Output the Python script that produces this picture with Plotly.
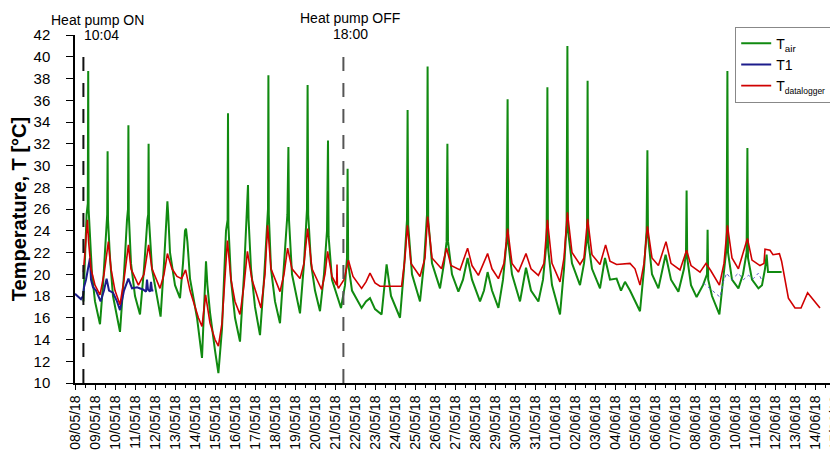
import pandas as pd
import plotly.graph_objects as go

BASE = pd.Timestamp("2018-05-08")

# T_air (green) - days after 08/05/18 00:00, values in degC
tair_days = [0.42, 0.50, 0.58, 0.64, 0.66, 0.68, 0.75, 0.85, 1.00, 1.25, 1.40, 1.55, 1.61, 1.63, 1.65,
             1.75, 1.90, 2.25, 2.45, 2.60, 2.65, 2.67, 2.69, 2.80, 3.00, 3.25, 3.45, 3.62, 3.66, 3.68,
             3.70, 3.85, 4.28, 4.45, 4.58, 4.62, 4.66, 4.75, 5.00, 5.25, 5.40, 5.50, 5.55, 5.62, 5.75,
             6.10, 6.35, 6.48, 6.55, 6.62, 6.75, 7.00, 7.17, 7.35, 7.55, 7.63, 7.65, 7.67, 7.80, 8.00,
             8.25, 8.45, 8.60, 8.65, 8.68, 8.80, 9.00, 9.25, 9.45, 9.60, 9.65, 9.67, 9.69, 9.80, 10.00,
             10.25, 10.45, 10.62, 10.67, 10.70, 10.85, 11.25, 11.45, 11.60, 11.63, 11.66, 11.80, 12.00,
             12.25, 12.45, 12.60, 12.65, 12.68, 12.85, 13.30, 13.50, 13.60, 13.63, 13.66, 13.85, 14.33,
             14.55, 14.75, 15.00, 15.33, 15.58, 15.80, 16.25, 16.45, 16.60, 16.63, 16.66, 16.85, 17.25,
             17.45, 17.60, 17.63, 17.66, 17.85, 18.25, 18.45, 18.58, 18.62, 18.65, 18.85, 19.17, 19.40,
             19.63, 19.85, 20.25, 20.45, 20.63, 20.85, 21.17, 21.40, 21.58, 21.63, 21.66, 21.85, 22.25,
             22.55, 22.80, 23.17, 23.40, 23.58, 23.62, 23.65, 23.85, 24.25, 24.45, 24.58, 24.62, 24.65,
             24.85, 25.25, 25.45, 25.60, 25.63, 25.66, 25.85, 26.25, 26.50, 26.75, 27.08, 27.30, 27.50,
             27.75, 28.00, 28.25, 28.45, 28.58, 28.62, 28.65, 28.85, 29.17, 29.53, 29.80, 30.17, 30.45,
             30.55, 30.58, 30.61, 30.80, 31.08, 31.40, 31.60, 31.63, 31.66, 31.85, 32.22, 32.42, 32.58,
             32.62, 32.65, 32.85, 33.17, 33.40, 33.58, 33.62, 33.65, 33.85, 34.17, 34.35, 34.50, 34.58,
             34.65, 35.33]
tair_vals = [17.5, 22.0, 25.5, 26.5, 38.7, 26.0, 23.5, 20.0, 17.5, 15.4, 19.0, 24.5, 25.5, 31.3, 25.0,
             21.5, 18.0, 14.7, 20.0, 25.0, 26.0, 33.7, 25.5, 21.0, 18.0, 16.3, 20.5, 25.0, 25.5, 32.0,
             25.0, 20.5, 16.1, 21.0, 26.0, 26.7, 25.5, 22.0, 19.0, 17.8, 21.0, 24.0, 24.2, 23.0, 19.6,
             16.0, 12.3, 18.0, 21.2, 19.0, 16.5, 13.0, 10.9, 15.0, 24.0, 25.0, 34.8, 24.5, 19.5, 16.0,
             13.8, 20.0, 25.5, 28.2, 25.0, 20.5, 17.0, 14.4, 19.5, 25.0, 26.0, 38.3, 25.5, 20.5, 17.5,
             15.5, 20.5, 25.5, 31.7, 25.0, 20.0, 16.4, 21.0, 26.0, 37.4, 25.5, 21.0, 18.5,
             16.6, 20.0, 24.0, 32.3, 23.5, 19.5, 16.9, 19.0, 21.5, 29.7, 21.0, 18.5, 16.9,
             17.5, 17.8, 16.8, 16.3, 20.9, 18.0, 16.0, 20.5, 25.0, 35.1, 24.5, 20.0, 17.5,
             21.0, 25.5, 39.1, 25.0, 21.0, 18.7, 21.0, 23.0, 32.0, 23.0, 20.0, 18.4, 19.5,
             21.5, 19.5, 17.5, 18.5, 20.2, 18.5, 16.9, 19.5, 23.0, 36.1, 23.0, 20.0, 17.5,
             20.6, 18.5, 17.5, 19.5, 23.0, 37.2, 22.5, 19.0, 16.3, 20.5, 24.5, 41.0, 24.0,
             21.0, 19.0, 21.0, 23.5, 37.8, 23.0, 20.5, 18.7, 21.5, 19.5, 19.6, 18.5, 19.3,
             18.5, 17.5, 16.6, 20.5, 24.0, 31.4, 23.5, 20.0, 18.7, 21.8, 19.5, 18.4, 20.5,
             22.0, 27.7, 21.5, 19.0, 17.9, 19.0, 20.0, 24.1, 19.5, 18.0, 16.3, 20.0, 22.5,
             38.7, 22.0, 19.5, 18.7, 20.0, 22.0, 31.6, 21.5, 19.5, 18.7, 19.0, 20.5, 21.8,
             20.2, 20.2]

# T1 (blue) - first sensor period, then a faint second period in June
t1_days = [0.00, 0.15, 0.30, 0.40, 0.45, 0.55, 0.65, 0.75, 0.80, 0.90, 1.05, 1.28, 1.45, 1.58, 1.70,
           1.90, 2.10, 2.25, 2.45, 2.67, 2.85, 3.10, 3.40, 3.55, 3.60, 3.65, 3.75, 3.80, 3.85, 3.92]
t1_vals = [18.2, 17.9, 17.7, 18.0, 18.8, 19.5, 20.5, 21.5, 19.5, 18.8, 18.5, 17.5, 18.5, 19.6, 18.5,
           18.3, 17.5, 16.7, 18.5, 19.6, 18.7, 18.8, 18.6, 18.4, 19.5, 18.6, 18.4, 19.3, 18.5, 18.5]
t1b_days = [31.42, 31.80, 32.25, 32.42, 32.58, 32.83, 33.17, 33.42, 33.67, 33.92, 34.17, 34.33]
t1b_vals = [19.2, 18.6, 17.9, 19.3, 20.1, 19.5, 20.1, 19.5, 19.9, 19.6, 20.1, 19.5]

# T_datalogger (red)
tlog_days = [0.42, 0.55, 0.62, 0.68, 0.80, 1.00, 1.25, 1.45, 1.67, 1.80, 2.00, 2.25, 2.45, 2.67, 2.80,
             3.17, 3.45, 3.68, 3.85, 4.25, 4.45, 4.62, 4.85, 5.10, 5.33, 5.53, 5.75, 6.17, 6.35, 6.53,
             6.75, 7.00, 7.17, 7.35, 7.62, 7.80, 8.00, 8.25, 8.45, 8.62, 8.85, 9.30, 9.50, 9.63, 9.80,
             10.25, 10.45, 10.63, 10.85, 11.25, 11.45, 11.63, 11.85, 12.33, 12.50, 12.63, 12.85, 13.08,
             13.10, 13.12, 13.17, 13.45, 13.67, 13.90, 14.33, 14.55, 14.75, 15.00, 15.25, 16.33, 16.50,
             16.62, 16.80, 17.25, 17.50, 17.63, 17.85, 18.33, 18.58, 18.80, 19.25, 19.63, 19.85, 20.17,
             20.63, 20.85, 21.17, 21.45, 21.63, 21.85, 22.17, 22.55, 22.80, 23.17, 23.45, 23.62, 23.85,
             24.25, 24.45, 24.62, 24.85, 25.25, 25.45, 25.63, 25.85, 26.25, 26.53, 26.75, 27.08, 27.75,
             28.00, 28.25, 28.45, 28.62, 28.85, 29.17, 29.55, 29.80, 30.25, 30.58, 30.80, 31.25, 31.55,
             31.80, 32.22, 32.45, 32.62, 32.85, 33.17, 33.62, 33.85, 34.25, 34.45, 34.50, 34.75, 34.90,
             35.22, 35.33, 35.67, 36.00, 36.30, 36.63, 37.25]
tlog_vals = [20.2, 23.5, 25.0, 23.0, 20.5, 19.0, 18.1, 20.0, 23.0, 20.5, 18.5, 17.2, 19.5, 22.7, 20.5,
             19.0, 20.0, 22.7, 20.5, 18.7, 20.0, 21.9, 20.5, 19.8, 19.6, 20.4, 18.5, 16.0, 15.2, 18.1,
             15.5, 14.0, 13.4, 15.5, 23.1, 19.5, 17.5, 16.3, 19.0, 22.1, 19.5, 16.9, 20.0, 24.5, 20.5,
             18.4, 20.0, 22.4, 20.5, 19.6, 21.0, 24.2, 20.5, 18.6, 20.0, 22.1, 19.8, 19.0,
             20.9, 19.0, 18.7, 19.5, 21.3, 19.8, 18.7, 19.3, 20.1, 19.2, 18.9, 18.9, 21.5,
             24.5, 21.0, 19.8, 21.5, 25.3, 21.5, 20.5, 22.4, 20.8, 20.4, 22.4, 20.8, 19.9,
             21.9, 20.5, 19.6, 21.0, 24.2, 21.0, 20.2, 21.9, 20.5, 19.9, 21.0, 25.0, 21.0,
             19.3, 21.5, 25.7, 22.0, 20.9, 21.5, 25.1, 21.8, 20.9, 22.7, 21.2, 20.9, 21.0,
             20.5, 19.0, 21.0, 24.4, 21.5, 20.8, 23.0, 21.0, 20.4, 22.2, 20.8, 20.2, 21.0,
             20.3, 19.0, 21.0, 24.5, 21.5, 20.5, 23.3, 21.3, 20.8, 21.0, 22.3, 22.2, 21.8,
             21.9, 21.2, 17.8, 16.9, 16.9, 18.3, 16.9]

# heat pump events (as they sit on the time axis)
pump_on = 0.42
pump_off = 13.42


def to_time(days):
    return BASE + pd.to_timedelta(days, unit="D")


FONT = "Liberation Sans, Arial, sans-serif"

fig = go.Figure()
fig.add_trace(go.Scatter(x=to_time(tair_days), y=tair_vals, mode="lines", name="T<sub>air</sub>",
                         line=dict(color="#108a10", width=2)))
fig.add_trace(go.Scatter(x=to_time(t1_days), y=t1_vals, mode="lines", name="T1", legendgroup="t1",
                         line=dict(color="#1c1c8c", width=2)))
fig.add_trace(go.Scatter(x=to_time(t1b_days), y=t1b_vals, mode="lines", showlegend=False,
                         legendgroup="t1", line=dict(color="#5a5ac8", width=1, dash="dot")))
fig.add_trace(go.Scatter(x=to_time(tlog_days), y=tlog_vals, mode="lines",
                         name="T<sub><span style='font-size:8.5px'>datalogger</span></sub>",
                         line=dict(color="#d00000", width=1.6)))

for d, col in [(pump_on, "#111111"), (pump_off, "#555555")]:
    t = to_time([d])[0]
    fig.add_shape(type="line", xref="x", yref="y", x0=t, x1=t, y0=10, y1=40.6,
                  line=dict(color=col, width=2, dash="14px,12px"))

ann = dict(xref="paper", yref="paper", showarrow=False, font=dict(family=FONT, size=14, color="black"))
fig.add_annotation(text="Heat pump ON", x=0.030, y=1.044, xanchor="center", yanchor="middle", **ann)
fig.add_annotation(text="10:04", x=0.009, y=1.001, xanchor="left", yanchor="middle", **ann)
fig.add_annotation(text="Heat pump OFF", x=0.362, y=1.050, xanchor="center", yanchor="middle", **ann)
fig.add_annotation(text="18:00", x=0.362, y=1.004, xanchor="center", yanchor="middle", **ann)

# page body adds an 8px offset, so the figure is drawn 8px smaller
fig.update_layout(
    width=830, height=447,
    margin=dict(l=67, r=3, t=26.5, b=71.7, autoexpand=False),
    paper_bgcolor="white", plot_bgcolor="white",
    font=dict(family=FONT, color="black"),
    legend=dict(x=0.995, y=1.024, xanchor="right", yanchor="top", bgcolor="white",
                bordercolor="#888888", borderwidth=1, font=dict(size=14), itemwidth=30,
                tracegroupgap=0),
)
fig.update_xaxes(
    range=[BASE, pd.Timestamp("2018-06-15")], automargin=False, ticklabeloverflow="allow",
    tickformat="%d/%m/%y", dtick=86400000, tick0=BASE, tickangle=-90,
    tickfont=dict(size=14), ticks="outside", ticklen=5, tickcolor="black",
    minor=dict(dtick=43200000, ticks="outside", ticklen=3, tickcolor="black"),
    showline=True, linecolor="black", linewidth=1.5, showgrid=False, zeroline=False,
)
fig.update_yaxes(
    range=[10, 42], dtick=2, tickfont=dict(size=15), ticks="outside", ticklen=7, tickcolor="black",
    ticklabelstandoff=13, automargin=False,
    showline=True, linecolor="black", linewidth=1.5, showgrid=False, zeroline=False,
    title=dict(text="<b>Temperature, T [°C]</b>", font=dict(size=20), standoff=4),
)

fig.write_html("out.html")
